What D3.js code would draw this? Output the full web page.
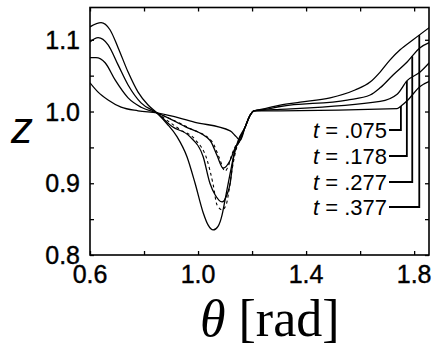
<!DOCTYPE html>
<html>
<head>
  <meta charset="utf-8">
  <title>z vs theta</title>
  <script src="https://d3js.org/d3.v7.min.js"></script>
  <style>
    body { margin: 0; background: #fff; }
    svg { display: block; }
  </style>
</head>
<body>
<svg class="chart"></svg>
<script>

// ---- data ----
const seriesNames = ["t = .075", "t = .178", "t = .277", "t = .377"];
const labelValues = [".075", ".178", ".277", ".377"];

const theta075 = [0.600, 0.630, 0.667, 0.715, 0.778, 0.848, 0.989, 1.119, 1.141, 1.156, 1.174, 1.193, 1.207, 1.248, 1.304, 1.737, 1.756, 1.774, 1.822, 1.856];
const z075     = [1.040, 1.027, 1.016, 1.006, 1.001, 0.998, 0.985, 0.973, 0.965, 0.960, 0.978, 0.995, 1.001, 1.001, 1.001, 1.004, 1.009, 1.015, 1.035, 1.042];

const theta178 = [0.600, 0.622, 0.656, 0.693, 0.741, 0.789, 0.848, 0.952, 1.044, 1.070, 1.093, 1.119, 1.137, 1.156, 1.174, 1.193, 1.207, 1.248, 1.304, 1.674, 1.737, 1.774, 1.822, 1.856];
const z178     = [1.075, 1.075, 1.068, 1.044, 1.019, 1.006, 0.998, 0.979, 0.960, 0.939, 0.921, 0.932, 0.949, 0.960, 0.978, 0.995, 1.001, 1.002, 1.003, 1.014, 1.024, 1.043, 1.055, 1.068];

const theta277 = [0.600, 0.630, 0.667, 0.704, 0.741, 0.789, 0.848, 0.904, 0.970, 1.019, 1.044, 1.063, 1.089, 1.107, 1.119, 1.130, 1.148, 1.174, 1.193, 1.207, 1.248, 1.304, 1.552, 1.637, 1.674, 1.722, 1.774, 1.822, 1.856];
const z277     = [1.097, 1.103, 1.093, 1.065, 1.037, 1.012, 0.998, 0.979, 0.965, 0.937, 0.900, 0.884, 0.874, 0.884, 0.900, 0.933, 0.959, 0.978, 0.995, 1.001, 1.003, 1.007, 1.016, 1.023, 1.033, 1.051, 1.069, 1.089, 1.096];

const theta377 = [0.600, 0.641, 0.674, 0.704, 0.741, 0.778, 0.815, 0.848, 0.885, 0.922, 0.959, 0.989, 1.019, 1.037, 1.056, 1.074, 1.089, 1.100, 1.119, 1.137, 1.152, 1.174, 1.193, 1.207, 1.248, 1.304, 1.378, 1.489, 1.581, 1.637, 1.674, 1.711, 1.748, 1.796, 1.856];
const z377     = [1.118, 1.124, 1.114, 1.089, 1.055, 1.027, 1.009, 0.998, 0.983, 0.965, 0.937, 0.900, 0.859, 0.842, 0.835, 0.840, 0.856, 0.877, 0.914, 0.946, 0.960, 0.978, 0.995, 1.001, 1.004, 1.009, 1.013, 1.019, 1.030, 1.041, 1.055, 1.072, 1.086, 1.100, 1.117];

// dashed companions in the dip
const thetaDashA = [0.848, 0.933, 0.989, 1.033, 1.056, 1.070, 1.089, 1.104, 1.115, 1.126, 1.141, 1.156];
const zDashA     = [0.998, 0.975, 0.961, 0.933, 0.898, 0.870, 0.863, 0.870, 0.891, 0.919, 0.947, 0.960];
const thetaDashB = [0.848, 0.967, 1.052, 1.078, 1.100, 1.111, 1.126, 1.144, 1.160];
const zDashB     = [0.998, 0.977, 0.958, 0.936, 0.917, 0.923, 0.941, 0.955, 0.960];

// where each leader line meets its curve (theta)
const leaderTheta = [1.751, 1.773, 1.793, 1.819];

const xTicks = [0.6, 0.8, 1.0, 1.2, 1.4, 1.6, 1.8];
const xTickLabels = [0.6, 1.0, 1.4, 1.8];
const yTicks = [0.8, 0.85, 0.9, 0.95, 1.0, 1.05, 1.1];
const yTickLabels = [0.8, 0.9, 1.0, 1.1];

// ---- layout ----
const W = 434, H = 347;
const margin = {top: 7.5, right: 5, bottom: 92, left: 90};
const width = W - margin.left - margin.right,
      height = H - margin.top - margin.bottom;

const svg = d3.select(".chart").attr("width", W).attr("height", H);
const chart = svg.append("g").attr("transform", `translate(${margin.left},${margin.top})`);

const x = d3.scaleLinear().domain([0.6, 1.855]).range([0, width]);
const y = d3.scaleLinear().domain([0.8, 1.145]).range([height, 0]);

const tickFont = "'Liberation Sans', Arial, sans-serif";

// axes with inward ticks on all sides
chart.append("g").attr("transform", `translate(0,${height})`)
  .call(d3.axisBottom(x).tickValues(xTicks).tickSizeInner(-4).tickSizeOuter(0).tickFormat(""));
chart.append("g")
  .call(d3.axisTop(x).tickValues(xTicks).tickSizeInner(-4).tickSizeOuter(0).tickFormat(""));
chart.append("g")
  .call(d3.axisLeft(y).tickValues(yTicks).tickSizeInner(-4).tickSizeOuter(0).tickFormat(""));
chart.append("g").attr("transform", `translate(${width},0)`)
  .call(d3.axisRight(y).tickValues(yTicks).tickSizeInner(-4).tickSizeOuter(0).tickFormat(""));
chart.selectAll(".domain").remove();
chart.selectAll(".tick line").attr("stroke", "#000").attr("stroke-width", 1.3);

// frame
chart.append("rect")
  .attr("width", width).attr("height", height)
  .attr("fill", "none").attr("stroke", "#000").attr("stroke-width", 1.6);

// tick labels
chart.selectAll(".xlab").data(xTickLabels).join("text")
  .attr("x", d => x(d)).attr("y", height + 28)
  .attr("text-anchor", "middle")
  .style("font-family", tickFont).style("font-size", "25px")
  .attr("stroke", "#000").attr("stroke-width", 0.4)
  .text(d => d.toFixed(1));
chart.selectAll(".ylab").data(yTickLabels).join("text")
  .attr("x", -10).attr("y", d => y(d)).attr("dy", "0.36em")
  .attr("text-anchor", "end")
  .style("font-family", tickFont).style("font-size", "25px")
  .attr("stroke", "#000").attr("stroke-width", 0.4)
  .text(d => d.toFixed(1));

// axis titles
svg.append("text")
  .attr("x", 11).attr("y", 143)
  .style("font-family", tickFont).style("font-style", "italic").style("font-size", "44px")
  .text("z");
const xt = svg.append("text")
  .attr("x", 200).attr("y", 336)
  .style("font-family", "'Liberation Serif', 'Times New Roman', serif").style("font-size", "52px");
xt.append("tspan").style("font-style", "italic").text("θ");
xt.append("tspan").text(" [rad]");

// curves
const line = d3.line()
  .x(d => x(d[0])).y(d => y(d[1]))
  .curve(d3.curveMonotoneX);

const solid = [
  d3.zip(theta075, z075),
  d3.zip(theta178, z178),
  d3.zip(theta277, z277),
  d3.zip(theta377, z377)
];
const dashed = [d3.zip(thetaDashA, zDashA), d3.zip(thetaDashB, zDashB)];

chart.append("defs").append("clipPath").attr("id", "clip")
  .append("rect").attr("width", width).attr("height", height);
const plot = chart.append("g").attr("clip-path", "url(#clip)");

plot.selectAll(".dash").data(dashed).join("path")
  .attr("d", line).attr("fill", "none")
  .attr("stroke", "#000").attr("stroke-width", 1.1)
  .attr("stroke-dasharray", "3,3");

plot.selectAll(".solid").data(solid).join("path")
  .attr("d", line).attr("fill", "none")
  .attr("stroke", "#000").attr("stroke-width", 1.3);

// labels with leader lines
function zAt(pts, t) {
  for (let i = 1; i < pts.length; i++) {
    if (pts[i][0] >= t) {
      const a = pts[i - 1], b = pts[i];
      return a[1] + (b[1] - a[1]) * (t - a[0]) / (b[0] - a[0]);
    }
  }
  return pts[pts.length - 1][1];
}

const labelX = 313 - margin.left;
const labelBase = [138, 164, 190, 215];
labelValues.forEach((v, i) => {
  const by = labelBase[i] - margin.top;
  const txt = chart.append("text")
    .attr("x", labelX).attr("y", by)
    .style("font-family", tickFont).style("font-size", "22px");
  txt.append("tspan").style("font-style", "italic").text("t");
  txt.append("tspan").text(" = " + v);
  const endX = labelX + txt.node().getComputedTextLength() + 2;
  const lx = x(leaderTheta[i]);
  const ly = y(zAt(solid[i], leaderTheta[i]));
  const hy = by - 8;
  chart.append("path")
    .attr("d", `M${endX},${hy}H${lx}V${ly}`)
    .attr("fill", "none").attr("stroke", "#000").attr("stroke-width", 1.8);
});

</script>
</body>
</html>
